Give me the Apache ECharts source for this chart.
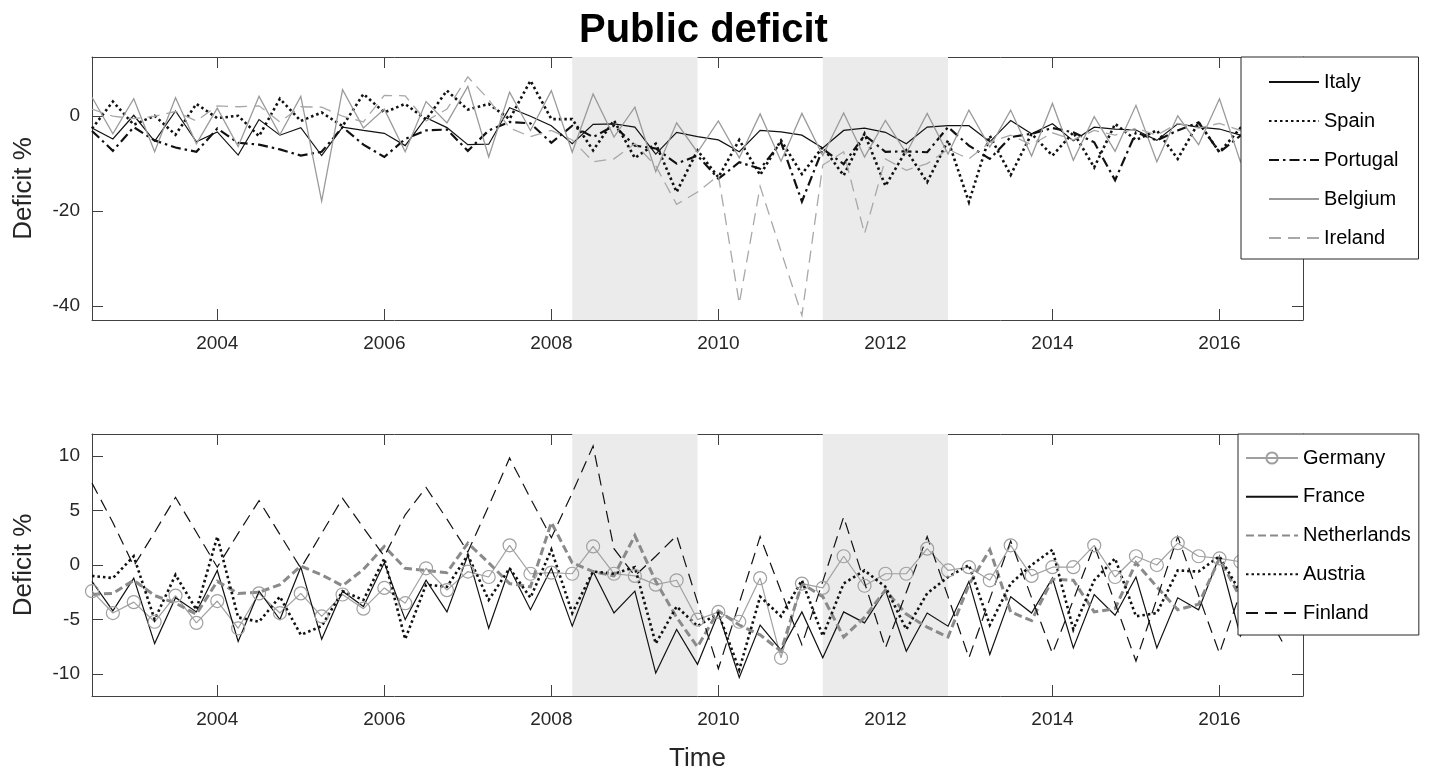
<!DOCTYPE html>
<html>
<head>
<meta charset="utf-8">
<script src="https://cdn.jsdelivr.net/npm/echarts@6/dist/echarts.min.js"></script>
<style>html,body{margin:0;padding:0;background:#fff}#chart{width:1435px;height:775px}</style>
</head>
<body>
<div id="chart"></div>
<script>
// ---- data (quarterly public deficit, % of GDP) ----
const time = [2002.5,2002.75,2003,2003.25,2003.5,2003.75,2004,2004.25,2004.5,2004.75,2005,2005.25,2005.5,2005.75,2006,2006.25,2006.5,2006.75,2007,2007.25,2007.5,2007.75,2008,2008.25,2008.5,2008.75,2009,2009.25,2009.5,2009.75,2010,2010.25,2010.5,2010.75,2011,2011.25,2011.5,2011.75,2012,2012.25,2012.5,2012.75,2013,2013.25,2013.5,2013.75,2014,2014.25,2014.5,2014.75,2015,2015.25,2015.5,2015.75,2016,2016.25,2016.5,2016.75];

const italy = [-2.5,-4.8,0.2,-5.3,1.1,-5.4,-3.3,-8.2,-0.7,-4.0,-2.4,-8.3,-2.3,-3.0,-3.6,-6.2,-0.3,-2.4,-6.0,-5.9,1.8,0.0,-2.0,-5.8,-1.7,-1.6,-2.3,-8.0,-3.4,-4.3,-5.0,-7.5,-3.0,-3.3,-4.0,-6.7,-3.0,-2.5,-3.4,-5.8,-2.3,-2.0,-2.0,-5.4,-0.9,-3.7,-1.6,-5.2,-2.3,-2.7,-2.9,-5.1,-1.6,-2.3,-2.7,-4.0,-2.0,-3.5];
const spain = [-2.6,3.1,-1.8,0.1,-3.9,2.6,-0.4,0.1,-4.2,3.7,-1.0,0.8,-2.1,4.7,0.8,2.6,-0.7,5.4,1.4,2.6,-0.6,7.5,-0.6,-0.6,-7.2,-0.9,-8.8,-5.8,-16.0,-7.2,-12.9,-5.0,-12.4,-5.1,-12.2,-6.5,-12.5,-3.7,-14.7,-7.2,-13.9,-5.1,-18.1,-4.1,-12.4,-3.7,-8.3,-3.4,-10.8,-1.6,-5.0,-3.0,-9.0,-1.3,-7.6,-2.5,-6.0,-2.0];
const portugal = [-3.1,-7.3,-2.3,-5.1,-6.6,-7.5,-2.6,-5.6,-6.0,-7.0,-8.3,-7.5,-2.3,-6.0,-8.6,-4.8,-3.0,-2.8,-7.3,-3.0,-1.2,-1.5,-5.6,-2.0,-4.4,-2.0,-6.2,-6.8,-10.0,-8.3,-13.2,-9.7,-11.1,-5.5,-18.0,-6.9,-10.1,-4.0,-7.5,-7.4,-7.6,-2.3,-6.2,-9.0,-4.4,-3.7,-2.5,-3.4,-5.5,-13.5,-3.4,-5.1,-3.0,-1.3,-7.6,-4.1,-3.0,-2.0];
const belgium = [4.0,-3.7,3.7,-7.5,3.9,-5.8,1.7,-6.4,4.2,-3.9,4.2,-17.9,5.6,-2.5,1.5,-7.5,3.1,-1.4,6.3,-8.6,5.1,-3.0,5.4,-7.6,4.7,-4.4,1.9,-11.7,-1.4,-7.6,-1.0,-8.8,0.5,-9.5,0.6,-8.3,0.7,-8.6,-0.9,-7.8,0.6,-8.0,1.3,-6.5,1.3,-8.4,2.7,-9.3,-0.1,-7.4,2.3,-9.6,0.1,-6.0,3.7,-9.6,1.0,-5.0];
const ireland = [1.5,0.0,-0.5,0.0,1.0,-1.0,2.2,2.0,2.2,-1.2,2.0,1.9,0.0,-1.2,4.4,4.3,-1.0,1.5,8.3,3.5,-2.5,-4.3,-3.0,-5.0,-9.6,-9.0,-5.8,-10.5,-18.6,-16.0,-12.5,-39.5,-14.8,-28.5,-42.0,-10.3,-7.5,-24.8,-9.0,-11.4,-10.0,-7.0,-9.0,-5.5,-4.0,-6.0,-3.5,-5.0,-3.0,-4.0,-2.5,-4.0,-1.5,-2.5,-1.5,-3.0,-1.0,-2.5];

const germany = [-2.4,-4.4,-3.4,-5.2,-2.8,-5.3,-3.3,-5.8,-2.6,-4.4,-2.6,-4.7,-2.7,-4.0,-2.1,-3.5,-0.3,-2.3,-0.6,-1.1,1.8,-0.8,-0.7,-0.8,1.7,-0.8,-1.0,-1.8,-1.4,-5.0,-4.3,-5.2,-1.2,-8.5,-1.7,-2.1,0.8,-1.9,-0.8,-0.8,1.5,-0.5,-0.2,-1.4,1.8,-1.0,-0.2,-0.2,1.8,-1.1,0.8,0.0,2.0,0.8,0.6,0.3,-0.2,0.5];
const france = [-1.5,-4.2,-1.2,-7.2,-3.0,-4.3,-0.5,-7.0,-2.4,-5.0,-0.2,-6.8,-2.4,-3.8,0.2,-5.0,-1.4,-4.3,0.9,-5.8,-0.3,-4.1,-0.3,-5.6,-0.6,-4.4,-2.4,-9.9,-5.9,-9.1,-4.4,-10.3,-5.5,-7.8,-4.3,-8.5,-4.3,-5.3,-2.3,-7.9,-4.4,-5.6,-1.5,-8.2,-2.9,-4.4,-1.2,-7.6,-2.7,-4.6,-1.1,-7.6,-3.0,-4.1,0.8,-6.5,-3.5,-7.0];
const netherlands = [-2.7,-2.6,-1.4,-2.8,-3.5,-4.5,-1.5,-2.6,-2.5,-1.8,-0.1,-0.9,-1.9,-0.4,1.7,-0.3,-0.5,-0.7,2.0,0.2,-1.7,-2.0,3.9,0.2,-0.6,-1.0,2.7,-1.5,-4.8,-7.5,-4.2,-5.5,-6.4,-7.9,-1.7,-2.9,-6.6,-4.8,-2.3,-4.5,-5.7,-6.6,-1.8,1.4,-4.3,-5.1,-1.3,-1.4,-4.3,-4.0,0.2,-2.0,-4.1,-3.6,0.6,-3.0,-2.0,0.5];
const austria = [-1.0,-1.2,0.8,-5.0,-0.9,-4.1,2.6,-4.8,-5.2,-2.9,-6.4,-5.6,-2.4,-3.2,0.6,-6.8,-1.8,-2.0,0.9,-3.2,-0.3,-3.0,1.4,-4.4,-0.6,-0.8,-0.2,-7.2,-3.8,-5.6,-4.4,-9.6,-2.9,-4.7,-1.4,-6.5,-1.7,-0.5,-2.0,-5.9,-2.6,-1.1,0.0,-5.5,-1.7,0.0,1.4,-5.9,-1.4,0.6,-4.7,-4.4,-0.5,-0.6,0.8,-2.5,-1.0,-5.5];
const finland = [7.5,3.9,-0.1,3.0,6.2,3.0,-0.2,2.9,5.9,2.8,-0.3,2.9,6.1,3.4,0.8,4.6,7.1,4.2,1.2,5.4,9.8,6.1,2.5,6.6,10.9,1.5,-1.0,0.8,2.7,-3.4,-9.5,-3.5,2.6,-2.4,-7.3,-1.5,4.4,-1.6,-7.6,-2.5,2.6,-2.9,-8.5,-3.1,2.2,-3.0,-8.1,-3.2,1.8,-3.5,-8.8,-3.1,2.6,-2.8,-8.1,-2.5,2.4,-3.0];

const recessions = [[2008.25, 2009.75], [2011.25, 2012.75]];
const xTicks = [2004, 2006, 2008, 2010, 2012, 2014, 2016];
const yTicksTop = [-40, -20, 0];
const yTicksBottom = [-10, -5, 0, 5, 10];

// ---- chart ----
const FONT = '"Liberation Sans", Arial, Helvetica, sans-serif';
const AX = '#404040';
const LBL = '#262626';

function pairs(ys) { return time.map((t, i) => [t, ys[i]]); }
const plain = (v) => String(v);

function xAx(grid, pos, ticks, showLabel, extra) {
  return Object.assign({
    type: 'value', gridIndex: grid, position: pos, min: 2002.5, max: 2017,
    axisLine: { show: true, onZero: false, lineStyle: { color: AX, width: 1 } },
    axisTick: { show: true, inside: true, length: 11, customValues: ticks, lineStyle: { color: AX } },
    axisLabel: { show: showLabel, customValues: ticks, formatter: plain, margin: 14, fontSize: 19, color: LBL, fontFamily: FONT },
    splitLine: { show: false }
  }, extra || {});
}
function yAx(grid, pos, min, max, ticks, showLabel, extra) {
  return Object.assign({
    type: 'value', gridIndex: grid, position: pos, min: min, max: max,
    axisLine: { show: true, onZero: false, lineStyle: { color: AX, width: 1 } },
    axisTick: { show: true, inside: true, length: 11, customValues: ticks, lineStyle: { color: AX } },
    axisLabel: { show: showLabel, customValues: ticks, formatter: plain, margin: 12, fontSize: 19, color: LBL, fontFamily: FONT },
    splitLine: { show: false }
  }, extra || {});
}

const yName = { name: 'Deficit %', nameLocation: 'middle', nameGap: 55,
  nameTextStyle: { fontSize: 26, color: LBL, fontFamily: FONT } };

function ln(name, data, xi, color, width, type, z) {
  return {
    name: name, type: 'line', xAxisIndex: xi, yAxisIndex: xi, data: pairs(data),
    symbol: 'none', z: z,
    lineStyle: { color: color, width: width, type: type || 'solid', cap: 'butt', join: 'miter' },
    itemStyle: { color: color }
  };
}

const shade = (xi) => ({
  type: 'line', xAxisIndex: xi, yAxisIndex: xi, data: [], silent: true, z: 1,
  markArea: { silent: true, itemStyle: { color: '#ebebeb' },
    data: recessions.map(r => [{ xAxis: r[0] }, { xAxis: r[1] }]) }
});

const germanySeries = {
  name: 'Germany', type: 'line', xAxisIndex: 1, yAxisIndex: 1, data: pairs(germany),
  symbol: 'circle', symbolSize: 13, showSymbol: true, z: 3,
  lineStyle: { color: '#a0a0a0', width: 1.2 },
  itemStyle: { color: 'rgba(255,255,255,0)', borderColor: '#a0a0a0', borderWidth: 1.2 }
};

const legendBase = {
  orient: 'vertical', itemWidth: 50, itemHeight: 14,
  textStyle: { fontSize: 20, lineHeight: 20, color: '#000', fontFamily: FONT },
  borderColor: '#262626', borderWidth: 1, borderRadius: 0, backgroundColor: '#fff',
  selectedMode: false
};
const hideSym = (n) => ({ name: n, itemStyle: { opacity: 0 } });

const option = {
  animation: false,
  backgroundColor: '#fff',
  title: { text: 'Public deficit', left: 574, top: 6,
    textStyle: { fontSize: 40, fontWeight: 'bold', color: '#000', fontFamily: FONT } },
  grid: [
    { left: 92, top: 57, width: 1211, height: 263 },
    { left: 92, top: 434, width: 1211, height: 262 }
  ],
  xAxis: [
    xAx(0, 'bottom', xTicks, true),
    xAx(1, 'bottom', xTicks, true, { name: 'Time', nameLocation: 'middle', nameGap: 50,
      nameTextStyle: { fontSize: 26, color: LBL, fontFamily: FONT } }),
    xAx(0, 'top', xTicks, false),
    xAx(1, 'top', xTicks, false)
  ],
  yAxis: [
    yAx(0, 'left', -43, 12.5, yTicksTop, true, yName),
    yAx(1, 'left', -12, 12, yTicksBottom, true, yName),
    yAx(0, 'right', -43, 12.5, yTicksTop, false),
    yAx(1, 'right', -12, 12, yTicksBottom, false)
  ],
  legend: [
    Object.assign({}, legendBase, { left: 1241, top: 57, itemGap: 19, padding: [15, 20, 11, 27],
      data: ['Italy', 'Spain', 'Portugal', 'Belgium', 'Ireland'].map(hideSym) }),
    Object.assign({}, legendBase, { left: 1238, top: 434, itemWidth: 52, itemGap: 18.75, padding: [14, 8, 12, 7],
      data: [{ name: 'Germany' }].concat(['France', 'Netherlands', 'Austria', 'Finland'].map(hideSym)) })
  ],
  series: [
    shade(0), shade(1),
    ln('Italy', italy, 0, '#111', 1.2, 'solid', 3),
    ln('Spain', spain, 0, '#111', 2.6, [2.5, 3], 3),
    ln('Portugal', portugal, 0, '#111', 2.2, [10, 4, 2.5, 4], 3),
    ln('Belgium', belgium, 0, '#9a9a9a', 1.3, 'solid', 3),
    ln('Ireland', ireland, 0, '#a8a8a8', 1.3, [12, 7], 3),
    germanySeries,
    ln('France', france, 1, '#111', 1.2, 'solid', 3),
    ln('Netherlands', netherlands, 1, '#8a8a8a', 3, [8, 4], 3),
    ln('Austria', austria, 1, '#111', 2.6, [2.5, 3], 3),
    ln('Finland', finland, 1, '#111', 1.2, [12, 7], 3)
  ]
};

const chart = echarts.init(document.getElementById('chart'), null, { renderer: 'canvas' });
chart.setOption(option);
</script>
</body>
</html>
